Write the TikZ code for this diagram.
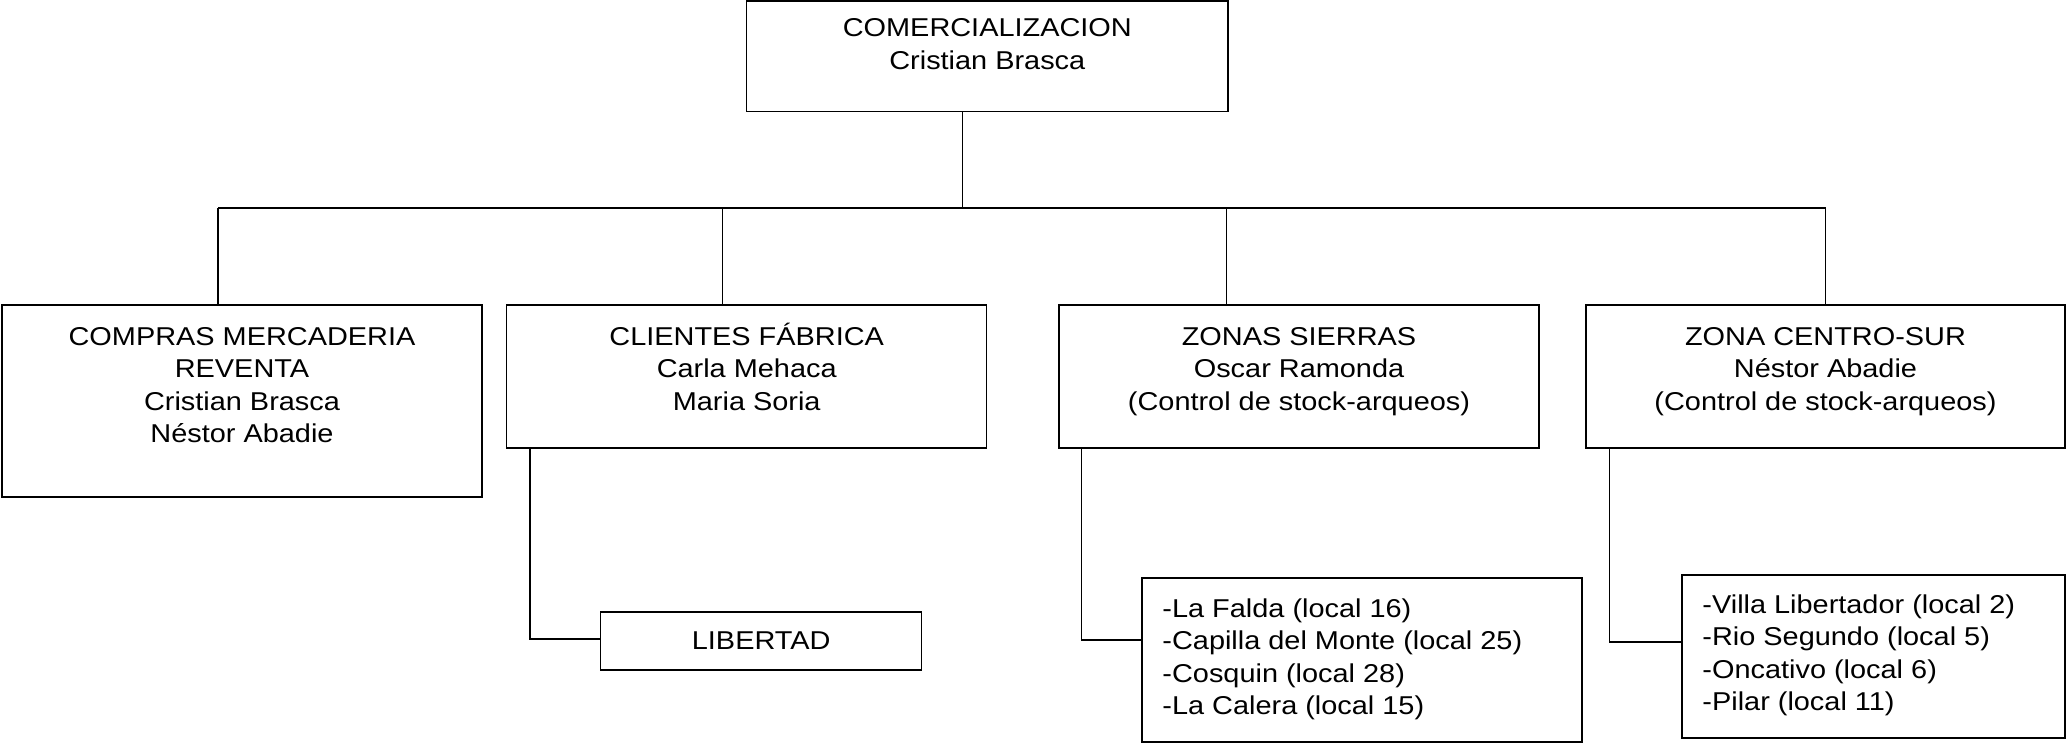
\documentclass[tikz,border=0pt]{standalone}
\usepackage{fontspec}
\setmainfont{Liberation Sans}[FakeStretch=1.12]
\newcommand\firststrut{\rule{0pt}{26pt}}
\begin{document}
\begin{tikzpicture}[x=1pt,y=-1pt,
  box/.style={draw, line width=1.5pt, rectangle, inner sep=0pt},
  txt/.style={inner sep=0pt, font=\fontsize{25.8pt}{32.5pt}\selectfont, align=center, anchor=north},
  ltxt/.style={inner sep=0pt, font=\fontsize{25.8pt}{32.5pt}\selectfont, align=left, anchor=north west},
  conn/.style={line width=1.3pt}]
\useasboundingbox (0,0) rectangle (2067,743);

% boxes
\node[box, minimum width=481.3pt, minimum height=110.7pt] (top) at (987.3,56.3) {};
\node[box, minimum width=480pt, minimum height=192pt] (b1) at (242,401) {};
\node[box, minimum width=480pt, minimum height=143pt] (b2) at (746.7,376.5) {};
\node[box, minimum width=480pt, minimum height=143pt] (b3) at (1299,376.5) {};
\node[box, minimum width=479pt, minimum height=143pt] (b4) at (1825.5,376.5) {};
\node[box, minimum width=321pt, minimum height=58.3pt] (lib) at (761.2,640.9) {};
\node[box, minimum width=440pt, minimum height=164pt] (falda) at (1362,660) {};
\node[box, minimum width=383pt, minimum height=163pt] (villa) at (1873.5,656.5) {};

% texts
\node[txt, yshift=-10.3pt] (t0) at (top.north) {\firststrut COMERCIALIZACION\\Cristian Brasca};
\node[txt, yshift=-15pt] (t1) at (b1.north) {\firststrut COMPRAS MERCADERIA\\REVENTA\\Cristian Brasca\\Néstor Abadie};
\node[txt, yshift=-15pt] (t2) at (b2.north) {\firststrut CLIENTES FÁBRICA\\Carla Mehaca\\Maria Soria};
\node[txt, yshift=-15pt] (t3) at (b3.north) {\firststrut ZONAS SIERRAS\\Oscar Ramonda\\(Control de stock-arqueos)};
\node[txt, yshift=-15pt] (t4) at (b4.north) {\firststrut ZONA CENTRO-SUR\\Néstor Abadie\\(Control de stock-arqueos)};
\node[inner sep=0pt, font=\fontsize{25.8pt}{32.5pt}\selectfont] (tl) at (lib.center) {LIBERTAD};
\node[ltxt, xshift=21pt, yshift=-14pt] (tf) at (falda.north west) {\firststrut -La Falda (local 16)\\-Capilla del Monte (local 25)\\-Cosquin (local 28)\\-La Calera (local 15)};
\node[ltxt, xshift=21pt, yshift=-13pt] (tv) at (villa.north west) {\firststrut -Villa Libertador (local 2)\\-Rio Segundo (local 5)\\-Oncativo (local 6)\\-Pilar (local 11)};

% connectors
\coordinate (jt) at (962.7,208);
\coordinate (j1) at (218,208);
\coordinate (j2) at (722.5,208);
\coordinate (j3) at (1226.7,208);
\coordinate (j4) at (1825.6,208);
\draw[conn] (jt |- top.south) -- (jt);
\draw[conn] (j1) -- (j4);
\draw[conn] (j1) -- (j1 |- b1.north);
\draw[conn] (j2) -- (j2 |- b2.north);
\draw[conn] (j3) -- (j3 |- b3.north);
\draw[conn] (j4) -- (j4 |- b4.north);

\coordinate (d2) at (530,639);
\coordinate (d3) at (1081.7,640);
\coordinate (d4) at (1609.5,642);
\draw[conn] (d2 |- b2.south) |- (d2 -| lib.west);
\draw[conn] (d3 |- b3.south) |- (d3 -| falda.west);
\draw[conn] (d4 |- b4.south) |- (d4 -| villa.west);
\end{tikzpicture}
\end{document}
